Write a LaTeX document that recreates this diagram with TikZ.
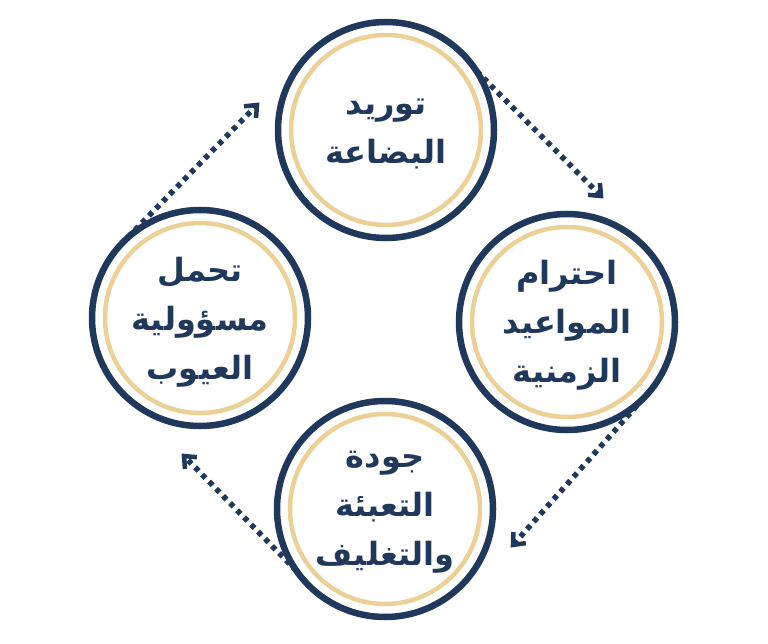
\documentclass[tikz,border=0pt]{standalone}
\usepackage{fontspec}
\newfontfamily\arabicfont[Script=Arabic]{DejaVu Sans}
\TeXXeTstate=1
\usetikzlibrary{calc}
\definecolor{navy}{RGB}{31,56,92}
\definecolor{gold}{RGB}{236,208,150}
\tikzset{
  ring/.style={circle,draw=navy,line width=6.5pt,minimum size=216pt,inner sep=0pt,outer sep=0pt},
  label/.style={text=navy,align=center,font=\arabicfont\bfseries\fontsize{32}{49}\selectfont},
  goldring/.style={draw=gold,line width=4.5pt},
  flow/.style={draw=navy,line width=5.5pt,dash pattern=on 5pt off 5pt,shorten >=3pt},
  chevron/.style={draw=navy,line width=4.5pt,solid,line join=miter,line cap=butt}
}
\newcommand{\chev}[2]{\draw[chevron] ($(#1)!13pt!40:(#2)$) -- (#1) -- ($(#1)!13pt!-40:(#2)$);}
\begin{document}
\begin{tikzpicture}[x=1pt,y=-1pt]
\useasboundingbox (0,0) rectangle (768,644);
\node[ring] (top) at (386,130) {};
\node[ring] (right) at (567,322) {};
\node[ring] (bottom) at (385,509) {};
\node[ring] (left) at (200,318) {};
\foreach \n in {top,right,bottom,left} \draw[goldring] (\n) circle (95pt);
\node[label] (ttop) at ([yshift=-4pt]top.center) {\beginR توريد\endR\\\beginR البضاعة\endR};
\node[label] (tright) at ([yshift=-3pt]right.center) {\beginR احترام\endR\\\beginR المواعيد\endR\\\beginR الزمنية\endR};
\node[label] (tbottom) at ([yshift=-3pt]bottom.center) {\beginR جودة\endR\\\beginR التعبئة\endR\\\beginR والتغليف\endR};
\node[label] (tleft) at ([yshift=-4pt]left.center) {\beginR تحمل\endR\\\beginR مسؤولية\endR\\\beginR العيوب\endR};
\coordinate (s1) at (top.33.7);
\coordinate (s2) at (right.-45.7);
\coordinate (s3) at (bottom.215.4);
\coordinate (s4) at (left.137.6);
\coordinate (e1) at (601,196);
\coordinate (e2) at (513,545);
\coordinate (e3) at (184,456);
\coordinate (e4) at (257,105);
\draw[flow] (s1) -- (e1);
\draw[flow] (s2) -- (e2);
\draw[flow] (s3) -- (e3);
\draw[flow] (s4) -- (e4);
\chev{e1}{s1}
\chev{e2}{s2}
\chev{e3}{s3}
\chev{e4}{s4}
\end{tikzpicture}
\end{document}
